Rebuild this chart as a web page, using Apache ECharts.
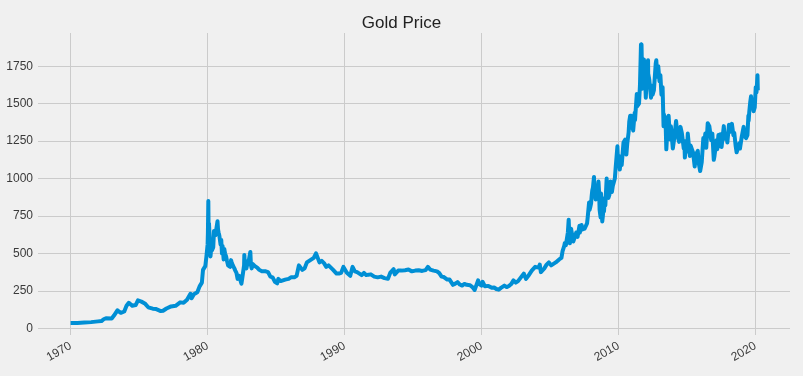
<!DOCTYPE html>
<html>
<head>
<meta charset="utf-8">
<title>Gold Price</title>
<script src="https://cdn.jsdelivr.net/npm/echarts@6/dist/echarts.min.js"></script>
<style>
  html, body { margin: 0; padding: 0; background: #f0f0f0; }
  #chart { width: 803px; height: 376px; }
</style>
</head>
<body>
<div id="chart"></div>
<script>
// gold price (USD / oz)
var dates = [
  // 1970s
  '1970-01', '1970-07', '1971-01', '1971-07', '1972-01', '1972-04', '1972-06', '1972-08', '1973-01', '1973-03',
  '1973-06', '1973-07', '1973-09', '1973-12', '1974-02', '1974-04', '1974-07', '1974-10', '1974-12', '1975-03',
  '1975-06', '1975-09', '1976-01', '1976-04', '1976-08', '1976-10', '1977-01', '1977-05', '1977-09', '1978-01',
  '1978-04', '1978-07', '1978-10', '1978-11', '1979-01', '1979-04', '1979-06', '1979-08', '1979-09', '1979-10',
  '1979-11', '1979-12',
  // 1980 - 1983
  '1980-01-02', '1980-01-10', '1980-01-21', '1980-01-28', '1980-02-08', '1980-02-20', '1980-03-05', '1980-03-18', '1980-03-27', '1980-04-10',
  '1980-04-25', '1980-05-10', '1980-05-30', '1980-06-20', '1980-07-10', '1980-07-25', '1980-08-08', '1980-09-22', '1980-10-06', '1980-10-20',
  '1980-11-10', '1980-11-25', '1980-12-12', '1980-12-31', '1981-01-19', '1981-02-05', '1981-03-03', '1981-03-20', '1981-04-10', '1981-05-08',
  '1981-06-01', '1981-06-30', '1981-07-20', '1981-08-10', '1981-08-25', '1981-09-17', '1981-10-05', '1981-11-05', '1981-11-25', '1981-12-15',
  '1982-01-10', '1982-02-10', '1982-03-10', '1982-03-25', '1982-04-20', '1982-05-15', '1982-06-21', '1982-07-10', '1982-08-15', '1982-08-31',
  '1982-09-07', '1982-09-20', '1982-10-10', '1982-11-01', '1982-11-20', '1982-12-10', '1983-01-10', '1983-02-15', '1983-03-01', '1983-03-20',
  '1983-04-15', '1983-05-20', '1983-06-15', '1983-07-20', '1983-08-15', '1983-09-15', '1983-10-10', '1983-11-15', '1983-12-20',
  // 1984 - 2005
  '1984-02', '1984-04', '1984-06', '1984-08', '1984-10', '1984-12', '1985-02', '1985-03', '1985-05', '1985-07',
  '1985-09', '1985-12', '1986-02', '1986-05', '1986-07', '1986-09', '1986-10', '1986-12', '1987-02', '1987-04',
  '1987-06', '1987-08', '1987-10', '1987-12', '1988-01', '1988-03', '1988-05', '1988-07', '1988-09', '1988-11',
  '1989-01', '1989-03', '1989-06', '1989-08', '1989-10', '1989-12', '1990-01', '1990-03', '1990-06', '1990-08',
  '1990-10', '1990-12', '1991-02', '1991-04', '1991-06', '1991-08', '1991-10', '1991-12', '1992-03', '1992-06',
  '1992-09', '1992-12', '1993-03', '1993-05', '1993-08', '1993-09', '1993-12', '1994-03', '1994-06', '1994-09',
  '1994-12', '1995-03', '1995-06', '1995-09', '1995-12', '1996-02', '1996-04', '1996-07', '1996-10', '1996-12',
  '1997-02', '1997-04', '1997-07', '1997-09', '1997-12', '1998-02', '1998-04', '1998-06', '1998-08', '1998-10',
  '1998-12', '1999-03', '1999-05', '1999-07', '1999-08', '1999-10', '1999-11', '2000-01', '2000-02', '2000-04',
  '2000-07', '2000-10', '2000-12', '2001-02', '2001-04', '2001-06', '2001-09', '2001-11', '2002-01', '2002-03',
  '2002-05', '2002-07', '2002-09', '2002-12', '2003-02', '2003-04', '2003-06', '2003-09', '2003-12', '2004-01',
  '2004-03', '2004-04', '2004-05', '2004-08', '2004-10', '2004-12', '2005-02', '2005-04', '2005-06', '2005-09',
  '2005-11', '2005-12',
  // 2006 - 2007
  '2006-01-15', '2006-02-01', '2006-02-28', '2006-03-15', '2006-04-20', '2006-05-12', '2006-05-25', '2006-06-14', '2006-06-30', '2006-07-14',
  '2006-08-01', '2006-08-15', '2006-09-14', '2006-10-05', '2006-11-01', '2006-11-30', '2006-12-29', '2007-01-05', '2007-02-26', '2007-03-05',
  '2007-04-20', '2007-05-15', '2007-06-20', '2007-07-10', '2007-08-16', '2007-09-14', '2007-10-01', '2007-11-08', '2007-11-20', '2007-12-10',
  '2007-12-31',
  // 2008 - 2009
  '2008-01-15', '2008-02-01', '2008-02-20', '2008-03-17', '2008-03-31', '2008-04-15', '2008-05-01', '2008-05-20', '2008-06-10', '2008-06-30',
  '2008-07-15', '2008-08-01', '2008-08-15', '2008-09-11', '2008-09-22', '2008-10-10', '2008-10-24', '2008-11-10', '2008-11-28', '2008-12-10',
  '2008-12-31', '2009-01-15', '2009-02-20', '2009-03-10', '2009-03-25', '2009-04-06', '2009-05-01', '2009-06-01', '2009-06-20', '2009-07-08',
  '2009-08-01', '2009-09-01', '2009-09-25', '2009-10-14', '2009-11-02', '2009-12-02', '2009-12-21',
  // 2010 - 2013
  '2010-01-11', '2010-02-05', '2010-03-01', '2010-03-25', '2010-05-12', '2010-06-28', '2010-07-28', '2010-08-20', '2010-09-28', '2010-10-14',
  '2010-11-09', '2010-11-17', '2010-12-07', '2011-01-27', '2011-03-07', '2011-03-15', '2011-05-02', '2011-05-05', '2011-06-30', '2011-07-25',
  '2011-08-22', '2011-08-25', '2011-09-06', '2011-09-26', '2011-10-20', '2011-11-08', '2011-12-01', '2011-12-29', '2012-01-16', '2012-02-28',
  '2012-03-01', '2012-03-30', '2012-05-16', '2012-06-05', '2012-06-28', '2012-08-02', '2012-09-20', '2012-10-04', '2012-11-02', '2012-11-26',
  '2012-12-28', '2013-01-22', '2013-02-20', '2013-03-20', '2013-04-15', '2013-04-24', '2013-05-20', '2013-06-05', '2013-06-28', '2013-07-10',
  '2013-08-28', '2013-09-20', '2013-10-15', '2013-10-28', '2013-12-19', '2013-12-31',
  // 2014 - 2017
  '2014-01-24', '2014-03-14', '2014-04-20', '2014-05-15', '2014-06-03', '2014-07-10', '2014-08-15', '2014-10-06', '2014-10-22', '2014-11-05',
  '2014-11-20', '2014-12-08', '2015-01-02', '2015-01-22', '2015-03-17', '2015-04-07', '2015-05-18', '2015-06-10', '2015-07-24', '2015-08-24',
  '2015-10-15', '2015-11-05', '2015-12-17', '2016-01-29', '2016-03-10', '2016-03-28', '2016-05-02', '2016-05-27', '2016-07-06', '2016-08-18',
  '2016-09-07', '2016-10-07', '2016-11-08', '2016-12-15', '2017-01-03', '2017-02-27', '2017-03-15', '2017-04-17', '2017-05-09', '2017-06-06',
  '2017-07-10', '2017-09-08', '2017-10-06', '2017-11-24', '2017-12-12',
  // 2018 - 2020
  '2018-01-25', '2018-02-08', '2018-04-11', '2018-05-21', '2018-06-14', '2018-07-19', '2018-08-16', '2018-09-10', '2018-10-26', '2018-11-13',
  '2018-12-31', '2019-02-20', '2019-03-07', '2019-04-23', '2019-05-30', '2019-06-25', '2019-07-01', '2019-07-18', '2019-08-13', '2019-09-04',
  '2019-10-01', '2019-10-22', '2019-11-12', '2019-12-12', '2020-01-08', '2020-01-28', '2020-02-24', '2020-03-02'
];
var prices = [
  // 1970s
  35, 35, 38, 41, 46, 48, 60, 67, 65, 85,
  120, 127, 103, 112, 150, 170, 150, 155, 186, 178,
  166, 140, 131, 128, 115, 117, 132, 146, 150, 173,
  170, 190, 230, 200, 227, 240, 280, 305, 390, 400,
  415, 480,
  // 1980 - 1983
  560, 640, 850, 650, 700, 640, 650, 480, 480, 540,
  520, 520, 540, 650, 640, 620, 615, 715, 660, 640,
  620, 630, 560, 590, 500, 550, 460, 530, 500, 480,
  450, 420, 410, 430, 410, 455, 440, 420, 410, 400,
  385, 370, 330, 320, 350, 340, 297, 330, 340, 420,
  490, 430, 420, 400, 410, 445, 460, 510, 420, 400,
  430, 440, 415, 420, 405, 410, 390, 380, 380,
  // 1984 - 2005
  385, 380, 375, 345, 340, 310, 300, 330, 315, 320,
  325, 330, 340, 340, 350, 420, 430, 390, 400, 440,
  450, 460, 470, 500, 480, 440, 450, 435, 410, 420,
  405, 390, 365, 365, 370, 410, 415, 370, 350, 410,
  380, 375, 365, 355, 370, 355, 358, 360, 345, 340,
  345, 335, 330, 370, 395, 360, 385, 385, 388, 392,
  380, 385, 387, 383, 388, 410, 392, 385, 380, 368,
  345, 342, 325, 325, 290, 298, 308, 292, 285, 296,
  290, 287, 275, 256, 255, 320, 295, 285, 310, 280,
  283, 270, 272, 262, 258, 270, 285, 275, 282, 295,
  320, 305, 315, 345, 365, 330, 350, 385, 410, 420,
  405, 425, 375, 400, 425, 440, 420, 430, 440, 460,
  470, 515,
  // 2006 - 2007
  550, 570, 555, 560, 640, 725, 640, 567, 610, 665,
  640, 620, 580, 570, 615, 640, 630, 610, 685, 640,
  690, 660, 650, 665, 660, 700, 740, 840, 790, 810,
  835,
  // 2008 - 2009
  880, 920, 940, 1011, 930, 930, 860, 920, 870, 930,
  980, 910, 790, 740, 900, 910, 713, 750, 810, 780,
  870, 820, 1000, 900, 950, 870, 890, 980, 930, 910,
  950, 950, 1000, 1065, 1060, 1215, 1090,
  // 2010 - 2013
  1150, 1060, 1130, 1090, 1240, 1260, 1160, 1230, 1310, 1380,
  1420, 1340, 1420, 1320, 1440, 1390, 1565, 1480, 1500, 1620,
  1895, 1750, 1895, 1600, 1620, 1795, 1720, 1540, 1650, 1790,
  1700, 1660, 1540, 1620, 1560, 1590, 1770, 1790, 1680, 1750,
  1650, 1690, 1560, 1610, 1350, 1430, 1360, 1410, 1195, 1250,
  1420, 1330, 1260, 1350, 1200, 1205,
  // 2014 - 2017
  1265, 1385, 1290, 1300, 1245, 1345, 1305, 1200, 1250, 1140,
  1195, 1230, 1180, 1300, 1150, 1220, 1225, 1175, 1080, 1160,
  1185, 1110, 1050, 1110, 1270, 1215, 1300, 1205, 1370, 1350,
  1350, 1255, 1300, 1125, 1150, 1255, 1195, 1290, 1215, 1295,
  1210, 1350, 1265, 1290, 1240,
  // 2018 - 2020
  1360, 1310, 1365, 1290, 1305, 1220, 1175, 1195, 1235, 1200,
  1280, 1345, 1285, 1270, 1290, 1420, 1385, 1445, 1510, 1550,
  1470, 1495, 1450, 1475, 1610, 1575, 1690, 1590
];
var yearTicks = [1970, 1980, 1990, 2000, 2010, 2020];
var priceTicks = [0, 250, 500, 750, 1000, 1250, 1500, 1750];

// 'YYYY-MM' or 'YYYY-MM-DD' -> fractional year
function toYear(s) {
  var p = s.split('-');
  var y = +p[0], m = +(p[1] || 1), d = +(p[2] || 1);
  return y + (m - 1) / 12 + (d - 1) / 365;
}

var seriesData = [];
for (var i = 0; i < dates.length; i++) {
  seriesData.push([toYear(dates[i]), prices[i]]);
}

var chart = echarts.init(document.getElementById('chart'), null, { renderer: 'canvas' });

var option = {
  backgroundColor: '#f0f0f0',
  animation: false,
  textStyle: { fontFamily: 'Liberation Sans, Arial, sans-serif' },
  title: {
    text: 'Gold Price',
    left: 'center',
    top: 10,
    textStyle: { fontSize: 17, fontWeight: 'normal', color: '#222', fontFamily: 'Liberation Sans, Arial, sans-serif' }
  },
  grid: { left: 38, right: 13, top: 33, bottom: 41 },
  xAxis: {
    type: 'value',
    min: 1967.62,
    max: 2022.52,
    axisLine: { show: false },
    axisTick: { show: false, customValues: yearTicks },
    axisLabel: {
      customValues: yearTicks,
      rotate: 30,
      margin: 10,
      fontSize: 12,
      color: '#3a3a3a',
      formatter: function (v) { return String(Math.round(v)); }
    },
    splitLine: { show: true, lineStyle: { color: '#cbcbcb', width: 1 } }
  },
  yAxis: {
    type: 'value',
    min: -45,
    max: 1972,
    axisLine: { show: false },
    axisTick: { show: false, customValues: priceTicks },
    axisLabel: {
      customValues: priceTicks,
      margin: 5,
      fontSize: 12,
      color: '#3a3a3a',
      formatter: function (v) { return String(v); }
    },
    splitLine: { show: true, lineStyle: { color: '#cbcbcb', width: 1 } }
  },
  series: [{
    name: 'Gold Price',
    type: 'line',
    data: seriesData,
    showSymbol: false,
    symbol: 'none',
    lineStyle: { color: '#008fd5', width: 4, join: 'round' },
    itemStyle: { color: '#008fd5' }
  }]
};
chart.setOption(option);
</script>
</body>
</html>
